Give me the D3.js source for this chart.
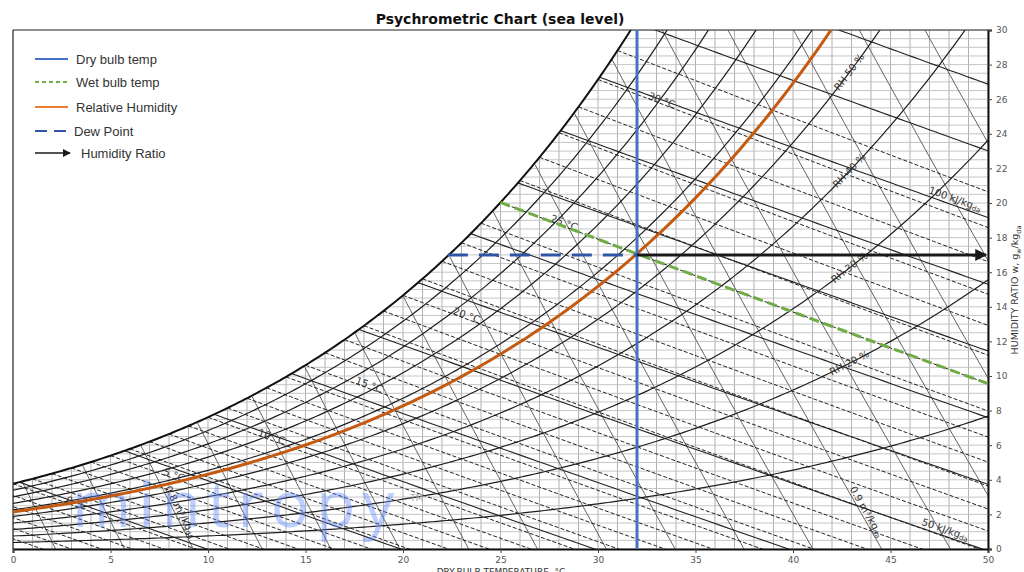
<!DOCTYPE html>
<html><head><meta charset="utf-8">
<script src="https://cdn.jsdelivr.net/npm/d3@7"></script>
<style>body{margin:0;background:#fff}svg{display:block}</style>
</head><body>
<svg id="chart" width="1024" height="572"></svg>
<script>
// ---- chart data ----
const dryBulbTicks = [0, 5, 10, 15, 20, 25, 30, 35, 40, 45, 50];
const humidityTicks = [0, 2, 4, 6, 8, 10, 12, 14, 16, 18, 20, 22, 24, 26, 28, 30];
const rhLevels = [10, 20, 30, 40, 50, 60, 70, 80, 90];
const rhLabelLevels = [20, 30, 40, 50];
const wetBulbLevels = [-5, -4, -3, -2, -1, 0, 1, 2, 3, 4, 5, 6, 7, 8, 9, 10, 11, 12, 13, 14, 15, 16, 17, 18, 19, 20, 21, 22, 23, 24, 25, 26, 27, 28, 29, 30, 31];
const wetBulbLabelLevels = [0, 5, 10, 15, 20, 25, 30];
const enthalpyLevels = [10, 20, 30, 40, 50, 60, 70, 80, 90, 100, 110, 120];
const enthalpyLabelLevels = [50, 100];
const volumeLevels = [0.78, 0.79, 0.80, 0.81, 0.82, 0.83, 0.84, 0.85, 0.86, 0.87, 0.88, 0.89, 0.90, 0.91, 0.92, 0.93, 0.94, 0.95];
const volumeLabelLevels = [0.8, 0.9];
// state point
const stateDryBulb = 32;      // °C
const stateHumidity = 17;     // g/kg
const stateWetBulb = 25;      // °C
const stateDewPoint = 22.3;   // °C
const stateRH = 57;           // %
const legendItems = ["Dry bulb temp", "Wet bulb temp", "Relative Humidity", "Dew Point", "Humidity Ratio"];

// ---- psychrometric relations (sea level) ----
const P = 101.325;
const pws = t => 0.61094 * Math.exp(17.625 * t / (t + 243.04));
const wRH = (t, rh) => { const p = rh / 100 * pws(t); return 1000 * 0.622 * p / (P - p); };
const wSat = t => wRH(t, 100);
const wWB = (t, twb) => 1000 * ((2501 - 2.326 * twb) * wSat(twb) / 1000 - 1.006 * (t - twb)) / (2501 + 1.86 * t - 4.186 * twb);
const wH = (t, h) => 1000 * (h - 1.006 * t) / (2501 + 1.86 * t);
const tV = (v, w) => v * P / (0.287042 * (1 + 1.607858 * w / 1000)) - 273.15;
const dew = w => { const p = (w / 1000) * P / (0.622 + w / 1000); const l = Math.log(p / 0.61094); return 243.04 * l / (17.625 - l); };
function bisect(f, a, b) { let fa = f(a); for (let i = 0; i < 60; i++) { const m = (a + b) / 2, fm = f(m); if ((fm > 0) === (fa > 0)) { a = m; fa = fm; } else b = m; } return (a + b) / 2; }

// ---- layout ----
const svg = d3.select("#chart");
const x = d3.scaleLinear().domain([0, 50]).range([13, 988]);
const y = d3.scaleLinear().domain([0, 30]).range([549, 30]);
const line = d3.line().x(d => x(d[0])).y(d => y(d[1]));
const sample = (a, b, n) => { const out = []; for (let i = 0; i <= n; i++) out.push(a + (b - a) * i / n); return out; };

const defs = svg.append("defs");
defs.append("clipPath").attr("id", "plot")
  .append("rect").attr("x", x(0)).attr("y", y(30)).attr("width", x(50) - x(0)).attr("height", y(0) - y(30));
defs.append("marker").attr("id", "arr").attr("viewBox", "0 0 10 10").attr("refX", 9).attr("refY", 5)
  .attr("markerWidth", 4).attr("markerHeight", 4).attr("orient", "auto")
  .append("path").attr("d", "M0,0L10,5L0,10Z").attr("fill", "#1a1a1a");
defs.append("marker").attr("id", "arr2").attr("viewBox", "0 0 10 10").attr("refX", 9).attr("refY", 5)
  .attr("markerWidth", 5).attr("markerHeight", 5).attr("orient", "auto")
  .append("path").attr("d", "M0,0L10,5L0,10Z").attr("fill", "#1a1a1a");

// title
svg.append("text").attr("x", 500).attr("y", 24).attr("text-anchor", "middle")
  .attr("font-family", "DejaVu Sans").attr("font-weight", "bold").attr("font-size", 14).attr("fill", "#111")
  .text("Psychrometric Chart (sea level)");

const g = svg.append("g").attr("clip-path", "url(#plot)");

// grid: dry bulb (vertical) & humidity ratio (horizontal), below saturation
g.append("g").selectAll("line").data(x.ticks(50)).join("line")
  .attr("x1", d => x(d)).attr("x2", d => x(d)).attr("y1", y(0)).attr("y2", d => y(Math.min(30, wSat(d))))
  .attr("stroke", "#a8a8a8").attr("stroke-width", 0.9);
g.append("g").selectAll("line").data(y.ticks(60)).join("line")
  .attr("y1", d => y(d)).attr("y2", d => y(d)).attr("x1", d => x(Math.max(0, dew(Math.max(d, 0.01))))).attr("x2", x(50))
  .attr("stroke", "#c0c0c0").attr("stroke-width", 0.9);

// specific volume lines
volumeLevels.forEach(v => {
  const pts = [];
  for (let w = 0; w <= 30.001; w += 0.1) { const t = tV(v, w); if (w > wSat(t)) break; pts.push([t, w]); }
  if (pts.length > 1) g.append("path").attr("d", line(pts)).attr("fill", "none").attr("stroke", "#5a5a5a").attr("stroke-width", 1);
});

// enthalpy lines
enthalpyLevels.forEach(h => {
  const t0 = bisect(t => wH(t, h) - wSat(t), -20, 60);
  g.append("path").attr("d", line(sample(t0, 50, 60).map(t => [t, wH(t, h)])))
    .attr("fill", "none").attr("stroke", "#222").attr("stroke-width", 1.1);
});

// wet bulb lines
wetBulbLevels.forEach(tw => {
  g.append("path").attr("d", line(sample(tw, 50, 60).map(t => [t, wWB(t, tw)])))
    .attr("fill", "none").attr("stroke", "#222").attr("stroke-width", 1).attr("stroke-dasharray", "4,2");
});

// relative humidity lines
rhLevels.forEach(rh => {
  g.append("path").attr("d", line(sample(0, 50, 200).map(t => [t, wRH(t, rh)])))
    .attr("fill", "none").attr("stroke", "#1e1e1e").attr("stroke-width", 1.2);
});

// saturation curve
g.append("path").attr("d", line(sample(0, 33, 200).map(t => [t, wSat(t)])))
  .attr("fill", "none").attr("stroke", "#111").attr("stroke-width", 2);

// ---- labels along curves ----
const lab = svg.append("g").attr("font-family", "DejaVu Sans").attr("font-size", 10).attr("fill", "#333");
function place(f, t, off) {
  const px = x(t), py = y(f(t));
  const dx = x(t + 0.05) - px, dy = y(f(t + 0.05)) - py;
  const a = Math.atan2(dy, dx);
  const nx = Math.sin(a), ny = -Math.cos(a);
  return { x: px + nx * off, y: py + ny * off, a: a * 180 / Math.PI };
}
function putText(p, build) {
  const t = lab.append("text").attr("text-anchor", "middle").attr("dominant-baseline", "middle")
    .attr("transform", `translate(${p.x},${p.y}) rotate(${p.a})`);
  build(t);
}
rhLabelLevels.forEach(rh => {
  putText(place(t => wRH(t, rh), 42.9, 0), t => t.text(`RH ${rh} %`));
});
wetBulbLabelLevels.forEach(tw => {
  putText(place(t => wWB(t, tw), tw + 3.2, 3), t => t.text(`${tw} °C`));
});
enthalpyLabelLevels.forEach(h => {
  const tt = h === 100 ? 48.2 : 47.7;
  putText(place(t => wH(t, h), tt, 6), t => {
    t.append("tspan").text(`${h} kJ/kg`);
    t.append("tspan").attr("font-size", 7).attr("dy", 2.5).text("da");
  });
});
volumeLabelLevels.forEach(v => {
  const w0 = 2.0, w1 = 2.1;
  const p0 = [x(tV(v, w0)), y(w0)], p1 = [x(tV(v, w1)), y(w1)];
  const a = Math.atan2(p0[1] - p1[1], p0[0] - p1[0]); // pointing downward along line
  const nx = -Math.sin(a), ny = Math.cos(a);
  const p = { x: p0[0] - nx * 5, y: p0[1] - ny * 5, a: a * 180 / Math.PI };
  putText(p, t => {
    t.append("tspan").text(`${v.toFixed(1)} m³/kg`);
    t.append("tspan").attr("font-size", 7).attr("dy", 2.5).text("da");
  });
});

// ---- frame & axes ----
svg.append("line").attr("x1", x(0)).attr("x2", x(50)).attr("y1", y(30)).attr("y2", y(30)).attr("stroke", "#222").attr("stroke-width", 1.2);
svg.append("line").attr("x1", x(0)).attr("x2", x(0)).attr("y1", y(30)).attr("y2", y(0)).attr("stroke", "#222").attr("stroke-width", 1.2);
const xAxis = svg.append("g").attr("transform", `translate(0,${y(0)})`)
  .call(d3.axisBottom(x).tickValues(dryBulbTicks).tickSize(4).tickPadding(4).tickFormat(d3.format("d")));
const yAxis = svg.append("g").attr("transform", `translate(${x(50)},0)`)
  .call(d3.axisRight(y).tickValues(humidityTicks).tickSize(4).tickPadding(4).tickFormat(d3.format("d")));
[xAxis, yAxis].forEach(a => {
  a.select(".domain").attr("stroke", "#111").attr("stroke-width", 2);
  a.selectAll(".tick line").attr("stroke", "#444");
  a.selectAll(".tick text").attr("font-family", "DejaVu Sans").attr("font-size", 9).attr("fill", "#555");
});
svg.append("text").attr("x", 501).attr("y", 575).attr("text-anchor", "middle")
  .attr("font-family", "DejaVu Sans").attr("font-size", 9).attr("fill", "#333").text("DRY-BULB TEMPERATURE, °C");
const yl = svg.append("text").attr("transform", "translate(1018,290) rotate(-90)").attr("text-anchor", "middle")
  .attr("font-family", "DejaVu Sans").attr("font-size", 9.5).attr("fill", "#333");
yl.append("tspan").text("HUMIDITY RATIO w, g");
yl.append("tspan").attr("font-size", 6.5).attr("dy", 2.5).text("w");
yl.append("tspan").attr("dy", -2.5).text("/kg");
yl.append("tspan").attr("font-size", 6.5).attr("dy", 2.5).text("da");

// ---- watermark ----
svg.append("text").attr("x", 72).attr("y", 527).attr("font-family", "Open Sans").attr("font-size", 64)
  .attr("letter-spacing", 7).attr("fill", "#5a84ff").attr("fill-opacity", 0.4).text("mintropy");
svg.append("text").attr("x", 410).attr("y", 501).attr("font-family", "DejaVu Sans").attr("font-size", 9)
  .attr("fill", "#aaa").text("TM");

// ---- state point overlays ----
const ov = svg.append("g").attr("clip-path", "url(#plot)");
ov.append("path").attr("d", line(sample(0, 45, 200).map(t => [t, wRH(t, stateRH)])))
  .attr("fill", "none").attr("stroke", "#C55A11").attr("stroke-width", 3);
ov.append("path").attr("d", line(sample(stateWetBulb, 50, 60).map(t => [t, wWB(t, stateWetBulb)])))
  .attr("fill", "none").attr("stroke", "#70AD47").attr("stroke-width", 3).attr("stroke-dasharray", "10,5");
ov.append("line").attr("x1", x(stateDryBulb)).attr("x2", x(stateDryBulb)).attr("y1", y(0)).attr("y2", y(30))
  .attr("stroke", "#4472C4").attr("stroke-width", 3);
ov.append("line").attr("x1", x(stateDewPoint)).attr("x2", x(stateDryBulb)).attr("y1", y(stateHumidity)).attr("y2", y(stateHumidity))
  .attr("stroke", "#2F55A4").attr("stroke-width", 3).attr("stroke-dasharray", "20,11");
svg.append("line").attr("x1", x(stateDryBulb)).attr("x2", x(49.9)).attr("y1", y(stateHumidity)).attr("y2", y(stateHumidity))
  .attr("stroke", "#1a1a1a").attr("stroke-width", 3).attr("marker-end", "url(#arr)");

// ---- legend ----
const lg = svg.append("g").attr("font-family", "Liberation Sans").attr("font-size", 13).attr("fill", "#333");
const ly = [59, 82, 107, 131, 153];
const styles = [
  { c: "#4472C4", d: null }, { c: "#70AD47", d: "4,3" }, { c: "#ED7D31", d: null },
  { c: "#2F55A4", d: "12,7" }, { c: "#1a1a1a", d: null, arrow: true }
];
legendItems.forEach((name, i) => {
  const s = styles[i];
  const l = lg.append("line").attr("x1", 35).attr("x2", s.arrow ? 70 : 68).attr("y1", ly[i]).attr("y2", ly[i])
    .attr("stroke", s.c).attr("stroke-width", s.arrow ? 1.6 : 1.8);
  if (s.d) l.attr("stroke-dasharray", s.d);
  if (s.arrow) l.attr("marker-end", "url(#arr2)");
  lg.append("text").attr("x", i === 4 ? 81 : (i === 3 ? 74 : 76)).attr("y", ly[i] + 4.5).text(name);
});
</script>
</body></html>
